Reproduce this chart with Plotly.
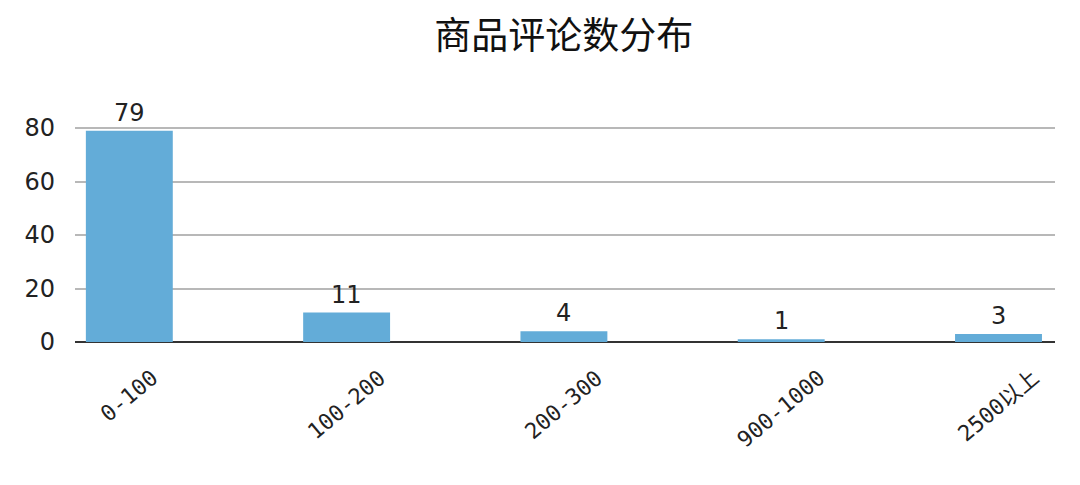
import plotly.graph_objects as go

categories = ["0-100", "100-200", "200-300", "900-1000", "2500以上"]
counts = [79, 11, 4, 1, 3]
title_text = "商品评论数分布"

fig = go.Figure(go.Bar(
    x=categories, y=counts, width=0.4,
    marker=dict(color="#63acd8", line=dict(width=0)),
))

for c, v in zip(categories, counts):
    fig.add_annotation(
        x=c, y=v, xref="x", yref="y", yshift=2,
        text=str(v), showarrow=False, xanchor="center", yanchor="bottom",
        font=dict(family="DejaVu Sans", size=24, color="#222222"),
    )

for c in categories:
    fig.add_annotation(
        x=c, xref="x", y=0, yref="paper", yshift=-20,
        text=c, showarrow=False, textangle=-40,
        xanchor="center", yanchor="top",
        font=dict(family="DejaVu Sans Mono, Noto Sans CJK SC", size=22, color="#222222"),
    )

fig.update_layout(
    width=1080, height=485,
    margin=dict(l=75, r=25, t=120, b=143),
    paper_bgcolor="white", plot_bgcolor="white",
    title=dict(text=title_text, x=0.522, xanchor="center", y=0.925, yanchor="middle",
               font=dict(family="Noto Sans CJK SC", size=37, color="#111111")),
    showlegend=False,
)
fig.update_xaxes(
    range=[-0.25, 4.26], showgrid=False, showline=False, ticks="",
    showticklabels=False,
)
fig.update_yaxes(
    range=[0, 83], tickvals=[0, 20, 40, 60, 80], showgrid=True, gridcolor="#b8b8b8", gridwidth=1.5,
    zeroline=True, zerolinecolor="#333333", zerolinewidth=2, showline=False, ticks="",
    ticklabelstandoff=19,
    tickfont=dict(family="DejaVu Sans", size=24, color="#222222"),
)
fig.write_html("out.html", config={"displayModeBar": False},
               post_script="document.body.style.margin='0';")
